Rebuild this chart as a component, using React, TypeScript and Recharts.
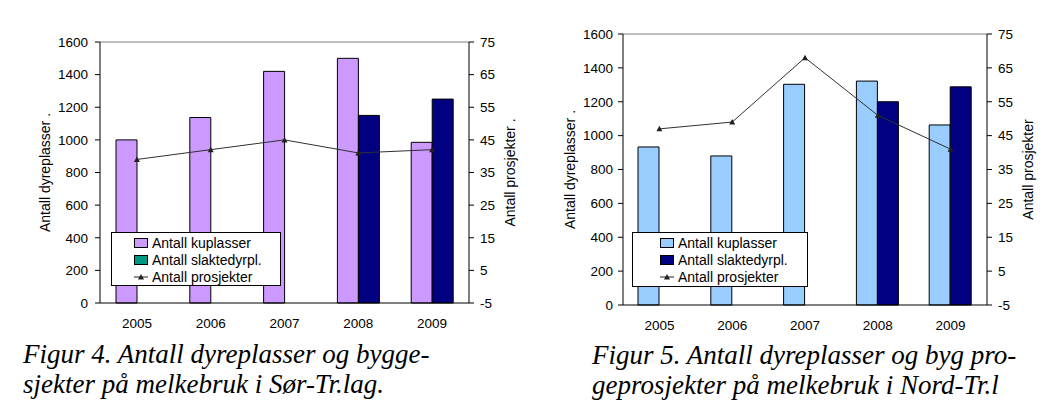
import React from "react";
import {
  Bar,
  ComposedChart,
  Legend,
  Line,
  ReferenceLine,
  XAxis,
  YAxis,
} from "recharts";

const years = ["2005", "2006", "2007", "2008", "2009"];

// Figur 4 - Sør-Trøndelag
const sorKuplasser = [1000, 1137, 1420, 1500, 985];
const sorSlaktedyr = [null, null, null, 1150, 1250];
const sorProsjekter = [39, 42, 45, 41, 42];

// Figur 5 - Nord-Trøndelag
const nordKuplasser = [933, 880, 1303, 1322, 1063];
const nordSlaktedyr = [null, null, null, 1200, 1288];
const nordProsjekter = [47, 49, 68, 51, 41];

const leftTicks = [0, 200, 400, 600, 800, 1000, 1200, 1400, 1600];
const rightTicks = [-5, 5, 15, 25, 35, 45, 55, 65, 75];
const edgeTicks = [0, 1, 2, 3, 4, 5];

const FONT = "'Liberation Sans', Arial, sans-serif";
const NAVY = "#000080";

const buildData = (ku: number[], sl: (number | null)[], pr: number[]) =>
  years.map((y, i) => ({ year: y, ku: ku[i], sl: sl[i], pr: pr[i] }));

const TriangleDot = (props: any) => {
  const { cx, cy } = props;
  if (cx == null || cy == null) return null;
  return (
    <polygon
      points={`${cx},${cy - 3} ${cx - 3},${cy + 2.5} ${cx + 3},${cy + 2.5}`}
      fill="#202020"
    />
  );
};

interface LegendItem {
  name: string;
  color: string;
  kind: "bar" | "line";
}

const LegendBox = ({
  items,
  swatchLeft,
}: {
  items: LegendItem[];
  swatchLeft: number;
}) => (
  <div
    style={{
      border: "1px solid #000",
      background: "#fff",
      boxSizing: "border-box",
      height: "100%",
      paddingTop: 1,
      fontFamily: FONT,
      fontSize: 14,
      color: "#000",
    }}
  >
    {items.map((it) => (
      <div
        key={it.name}
        style={{
          display: "flex",
          alignItems: "center",
          height: 17.3,
          paddingLeft: swatchLeft,
        }}
      >
        {it.kind === "bar" ? (
          <span
            style={{
              display: "inline-block",
              width: 12,
              height: 8,
              background: it.color,
              border: "1px solid #000",
              marginRight: 4,
            }}
          />
        ) : (
          <svg width={14} height={10} style={{ marginRight: 4 }}>
            <line x1={0} y1={5} x2={14} y2={5} stroke="#202020" strokeWidth={1} />
            <polygon points="7,2 4,7.5 10,7.5" fill="#202020" />
          </svg>
        )}
        <span style={{ whiteSpace: "nowrap" }}>{it.name}</span>
      </div>
    ))}
  </div>
);

interface PanelProps {
  ku: number[];
  sl: (number | null)[];
  pr: number[];
  kuColor: string;
  legendSlColor: string;
  width: number;
  height: number;
  margin: { top: number; right: number; left: number; bottom: number };
  leftLabel: string;
  rightLabel: string;
  leftLabelOffset: number;
  rightLabelOffset: number;
  leftTickMargin: number;
  legendPos: { left: number; top: number; width: number; height: number };
  swatchLeft: number;
}

const Panel = (p: PanelProps) => {
  const data = buildData(p.ku, p.sl, p.pr);
  const items: LegendItem[] = [
    { name: "Antall kuplasser", color: p.kuColor, kind: "bar" },
    { name: "Antall slaktedyrpl.", color: p.legendSlColor, kind: "bar" },
    { name: "Antall prosjekter", color: "#202020", kind: "line" },
  ];
  const tickStyle = { fontSize: 13.5, fill: "#000", fontFamily: FONT };
  return (
    <ComposedChart
      width={p.width}
      height={p.height}
      data={data}
      margin={p.margin}
      barGap={0}
      barSize={21}
    >
      <XAxis
        xAxisId="edge"
        type="number"
        domain={[0, 5]}
        ticks={edgeTicks}
        tick={false}
        tickSize={5}
        axisLine={false}
        tickLine={{ stroke: "#000" }}
        height={0}
      />
      <XAxis
        xAxisId="cat"
        dataKey="year"
        tickLine={false}
        tickMargin={9}
        axisLine={{ stroke: "#000" }}
        tick={tickStyle}
        height={30}
      />
      <YAxis
        yAxisId="l"
        domain={[0, 1600]}
        ticks={leftTicks}
        interval={0}
        tickSize={5}
        tickMargin={p.leftTickMargin}
        axisLine={{ stroke: "#000" }}
        tickLine={{ stroke: "#000" }}
        tick={tickStyle}
        width={60}
        label={{
          value: p.leftLabel,
          angle: -90,
          position: "insideLeft",
          offset: p.leftLabelOffset,
          style: {
            textAnchor: "middle",
            fontSize: 14,
            fill: "#000",
            fontFamily: FONT,
          },
        }}
      />
      <YAxis
        yAxisId="r"
        orientation="right"
        domain={[-5, 75]}
        ticks={rightTicks}
        interval={0}
        tickSize={5}
        tickMargin={6}
        axisLine={{ stroke: "#000" }}
        tickLine={{ stroke: "#000" }}
        tick={tickStyle}
        width={46}
        label={{
          value: p.rightLabel,
          angle: -90,
          position: "insideRight",
          offset: p.rightLabelOffset,
          style: {
            textAnchor: "middle",
            fontSize: 14,
            fill: "#000",
            fontFamily: FONT,
          },
        }}
      />
      <ReferenceLine
        xAxisId="cat"
        yAxisId="l"
        y={1600}
        stroke="#808080"
        strokeWidth={1}
      />
      <Bar
        xAxisId="cat"
        yAxisId="l"
        dataKey="ku"
        name="Antall kuplasser"
        fill={p.kuColor}
        stroke="#000"
        strokeWidth={1}
        isAnimationActive={false}
      />
      <Bar
        xAxisId="cat"
        yAxisId="l"
        dataKey="sl"
        name="Antall slaktedyrpl."
        fill={NAVY}
        stroke="#000"
        strokeWidth={1}
        isAnimationActive={false}
      />
      <Line
        xAxisId="cat"
        yAxisId="r"
        dataKey="pr"
        name="Antall prosjekter"
        type="linear"
        stroke="#303030"
        strokeWidth={1}
        dot={<TriangleDot />}
        activeDot={false}
        isAnimationActive={false}
      />
      <Legend
        layout="vertical"
        align="center"
        verticalAlign="middle"
        wrapperStyle={{ ...p.legendPos }}
        content={() => <LegendBox items={items} swatchLeft={p.swatchLeft} />}
      />
    </ComposedChart>
  );
};

const captionStyle: React.CSSProperties = {
  position: "absolute",
  fontFamily: "'Liberation Serif', 'Times New Roman', serif",
  fontStyle: "italic",
  fontSize: 27,
  lineHeight: "30px",
  color: "#000",
  whiteSpace: "nowrap",
};

export default function App() {
  return (
    <div
      style={{
        position: "absolute",
        left: 0,
        top: 0,
        width: 1046,
        height: 402,
        background: "#fff",
        overflow: "hidden",
      }}
    >
      <div style={{ position: "absolute", left: 0, top: 0 }}>
        <Panel
          ku={sorKuplasser}
          sl={sorSlaktedyr}
          pr={sorProsjekter}
          kuColor="#CC99FF"
          legendSlColor="#009980"
          width={530}
          height={345}
          margin={{ top: 42, right: 15, left: 40, bottom: 12 }}
          leftLabel="Antall dyreplasser   ."
          rightLabel="Antall prosjekter   ."
          leftLabelOffset={5}
          rightLabelOffset={5}
          leftTickMargin={7}
          legendPos={{ left: 111, top: 232, width: 170, height: 54 }}
          swatchLeft={22}
        />
      </div>
      <div style={{ position: "absolute", left: 530, top: 0 }}>
        <Panel
          ku={nordKuplasser}
          sl={nordSlaktedyr}
          pr={nordProsjekter}
          kuColor="#99CCFF"
          legendSlColor={NAVY}
          width={516}
          height={345}
          margin={{ top: 34, right: 13, left: 33, bottom: 10 }}
          leftLabel="Antall dyreplasser  ."
          rightLabel="Antall prosjekter"
          leftLabelOffset={7}
          rightLabelOffset={5}
          leftTickMargin={5}
          legendPos={{ left: 102, top: 232, width: 176, height: 55 }}
          swatchLeft={27}
        />
      </div>
      <div style={{ ...captionStyle, left: 23, top: 339 }}>
        Figur 4. Antall dyreplasser og bygge-
        <br />
        sjekter på melkebruk i Sør-Tr.lag.
      </div>
      <div style={{ ...captionStyle, left: 592, top: 340 }}>
        Figur 5. Antall dyreplasser og byg pro-
        <br />
        geprosjekter på melkebruk i Nord-Tr.l
      </div>
    </div>
  );
}
